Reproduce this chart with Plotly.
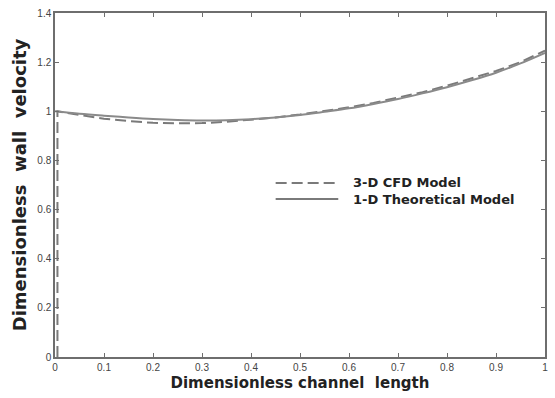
import plotly.graph_objects as go

x_theory = [0, 0.05, 0.1, 0.15, 0.2, 0.25, 0.3, 0.35, 0.4, 0.45, 0.5, 0.55, 0.6,
            0.65, 0.7, 0.75, 0.8, 0.85, 0.9, 0.95, 1.0]
y_theory = [1.0, 0.99, 0.982, 0.975, 0.969, 0.965, 0.963, 0.964, 0.968, 0.975, 0.985,
            0.998, 1.012, 1.03, 1.05, 1.073, 1.098, 1.126, 1.157, 1.195, 1.238]

x_cfd = [0.005, 0.005, 0.05, 0.1, 0.15, 0.2, 0.25, 0.3, 0.35, 0.4, 0.45, 0.5, 0.55,
         0.6, 0.65, 0.7, 0.75, 0.8, 0.85, 0.9, 0.95, 1.0]
y_cfd = [0.0, 1.0, 0.985, 0.97, 0.96, 0.953, 0.951, 0.952, 0.957, 0.965, 0.975, 0.987,
         1.0, 1.016, 1.034, 1.055, 1.078, 1.104, 1.133, 1.164, 1.2, 1.247]

x_ticks = [0, 0.1, 0.2, 0.3, 0.4, 0.5, 0.6, 0.7, 0.8, 0.9, 1]
x_tick_labels = ["0", "0.1", "0.2", "0.3", "0.4", "0.5", "0.6", "0.7", "0.8", "0.9", "1"]
y_ticks = [0, 0.2, 0.4, 0.6, 0.8, 1.0, 1.2, 1.4]
y_tick_labels = ["0", "0.2", "0.4", "0.6", "0.8", "1", "1.2", "1.4"]

series_names = ["3-D CFD Model", "1-D Theoretical Model"]

line_color = "#7a7a7a"
fig = go.Figure()
fig.add_trace(go.Scatter(x=x_cfd, y=y_cfd, mode="lines", name=series_names[0],
                         line=dict(color=line_color, width=2, dash="11px,5px"),
                         showlegend=False))
fig.add_trace(go.Scatter(x=x_theory, y=y_theory, mode="lines", name=series_names[1],
                         line=dict(color="#8a8a8a", width=2, shape="spline"),
                         showlegend=False))

axis_common = dict(showline=True, linecolor="#6e6e6e", linewidth=1.5, mirror="ticks",
                   ticks="inside", ticklen=4, tickcolor="#6e6e6e", showgrid=False,
                   zeroline=False, tickfont=dict(family="Liberation Sans", size=10, color="#444"))

title_family = "DejaVu Sans"
fig.update_xaxes(range=[0, 1], tickvals=x_ticks, ticktext=x_tick_labels,
                 title=dict(text="<b>Dimensionless channel  length</b>", standoff=6,
                            font=dict(family=title_family, size=15, color="#222")),
                 **axis_common)
fig.update_yaxes(range=[0, 1.4], tickvals=y_ticks, ticktext=y_tick_labels,
                 title=dict(text="<b>Dimensionless  wall  velocity</b>", standoff=6,
                            font=dict(family=title_family, size=18, color="#222")),
                 **axis_common)

# manual legend
def px_to_paper_x(px):
    return (px - 55) / (548 - 55)
def px_to_paper_y(py):
    return (357 - py) / (357 - 13)

for name, dash, py in [(series_names[0], "11px,5px", 183), (series_names[1], "solid", 199)]:
    fig.add_shape(type="line", xref="paper", yref="paper",
                  x0=px_to_paper_x(277), x1=px_to_paper_x(340),
                  y0=px_to_paper_y(py), y1=px_to_paper_y(py),
                  line=dict(color=line_color, width=2, dash=dash))

fig.add_annotation(xref="paper", yref="paper", x=px_to_paper_x(353), y=px_to_paper_y(191),
                   text="<b>" + series_names[0] + "</b><br><b>" + series_names[1] + "</b>",
                   showarrow=False, xanchor="left", yanchor="middle", align="left",
                   font=dict(family=title_family, size=13, color="#222"))

fig.update_layout(width=555, height=398, margin=dict(l=55, r=7, t=13, b=41),
                  plot_bgcolor="white", paper_bgcolor="white")

fig.write_html("out.html")
